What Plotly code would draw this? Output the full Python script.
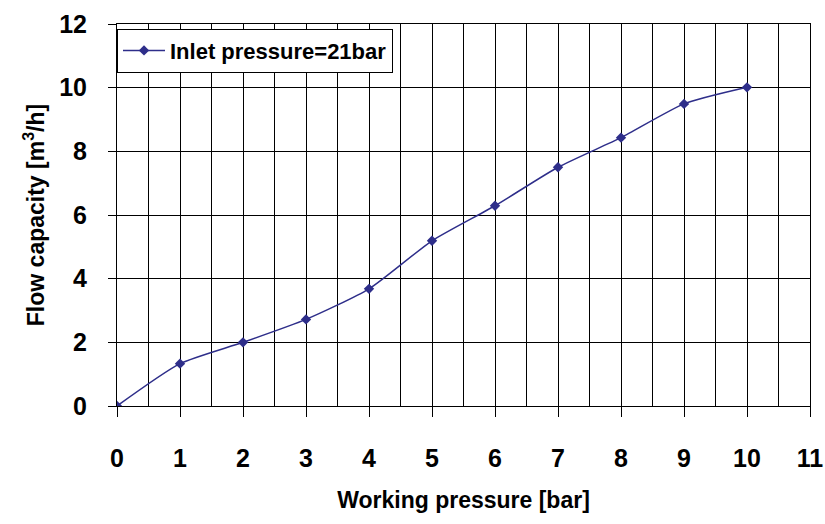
import plotly.graph_objects as go

pressure = [0, 1, 2, 3, 4, 5, 6, 7, 8, 9, 10]
flow = [0, 1.33, 2.0, 2.72, 3.68, 5.19, 6.29, 7.5, 8.43, 9.49, 10.01]
x_ticks = list(range(0, 12))
y_ticks = list(range(0, 13, 2))

FONT = "Liberation Sans Narrow, Arial Narrow, Liberation Sans, Arial"

fig = go.Figure()
fig.add_trace(go.Scatter(
    x=pressure, y=flow, mode="lines+markers",
    name="<b>Inlet pressure=21bar</b>",
    line=dict(color="#2E2E8A", width=1.5, shape="spline", smoothing=0.6),
    marker=dict(symbol="diamond", size=8, color="#2E2E8A"),
))

fig.update_layout(
    width=825, height=524,
    margin=dict(l=117, r=15, t=24, b=118),
    paper_bgcolor="white", plot_bgcolor="white",
    font=dict(family=FONT, color="black", size=20),
    showlegend=True,
    legend=dict(x=0, y=0.988, xanchor="left", yanchor="top",
                bgcolor="white", bordercolor="black", borderwidth=1,
                itemwidth=42,
                font=dict(size=22, family=FONT)),
    xaxis=dict(
        range=[0, 11], tickvals=x_ticks, ticktext=[f"<b>{t}</b>" for t in x_ticks],
        showgrid=True, gridcolor="black", gridwidth=1,
        minor=dict(dtick=0.5, tick0=0, showgrid=True, gridcolor="black", gridwidth=1),
        ticks="outside", ticklen=10, tickcolor="black",
        ticklabelstandoff=20,
        showline=True, linecolor="black", mirror=True,
        tickfont=dict(size=25, family=FONT),
        automargin=False,
        title=dict(text="<b>Working pressure [bar]</b>", font=dict(size=23, family=FONT), standoff=20),
        zeroline=False,
    ),
    yaxis=dict(
        range=[0, 12], tickvals=y_ticks, ticktext=[f"<b>{t}</b>" for t in y_ticks],
        showgrid=True, gridcolor="black", gridwidth=1,
        ticks="outside", ticklen=8, tickcolor="black",
        ticklabelstandoff=16,
        showline=True, linecolor="black", mirror=True,
        tickfont=dict(size=25, family=FONT),
        automargin=False,
        title=dict(text="<b>Flow capacity [m<sup>3</sup>/h]</b>", font=dict(size=23, family=FONT), standoff=8),
        zeroline=False,
    ),
)

fig.write_html(
    "out.html",
    config={"displayModeBar": False},
    post_script="document.body.style.margin='0';document.body.style.overflow='hidden';",
)
